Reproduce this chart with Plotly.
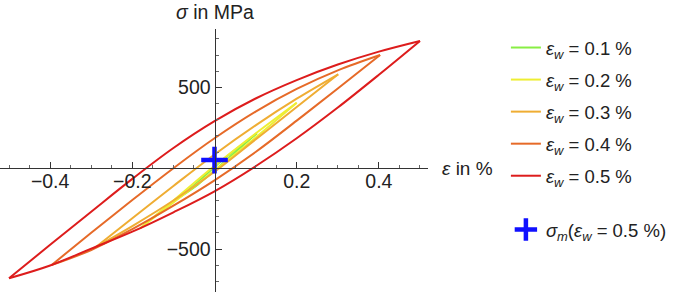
import plotly.graph_objects as go

# ---------------- data (strain in %, stress in MPa) ----------------
amplitudes = ["0.1", "0.2", "0.3", "0.4", "0.5"]
colors = ["#88ee44", "#eeee33", "#efad33", "#e66a28", "#dd1c1c"]

# 0.1 % loop
eps_up_01 = [-0.085, -0.04, 0.0, 0.05, 0.103]
sig_up_01 = [-180, -84, 8, 112, 216]
eps_lo_01 = [0.103, 0.05, 0.0, -0.04, -0.085]
sig_lo_01 = [216, 98, -14, -100, -180]

# 0.2 % loop
eps_up_02 = [-0.18, -0.1, 0.0, 0.1, 0.2]
sig_up_02 = [-370, -200, 15, 215, 405]
eps_lo_02 = [0.2, 0.1, 0.0, -0.1, -0.18]
sig_lo_02 = [405, 190, -15, -212, -370]

# 0.3 % loop
eps_up_03 = [-0.287, -0.2, -0.1, 0.0, 0.1, 0.2, 0.301]
sig_up_03 = [-485, -310, -110, 85, 265, 430, 581]
eps_lo_03 = [0.301, 0.2, 0.1, 0.0, -0.1, -0.2, -0.287]
sig_lo_03 = [581, 378, 178, -22, -200, -358, -485]

# 0.4 % loop
eps_up_04 = [-0.397, -0.3, -0.2, -0.1, 0.0, 0.1, 0.2, 0.3, 0.403]
sig_up_04 = [-600, -400, -197, 0, 185, 350, 490, 605, 700]
eps_lo_04 = [0.403, 0.3, 0.2, 0.1, 0.0, -0.1, -0.2, -0.3, -0.397]
sig_lo_04 = [700, 493, 294, 100, -75, -232, -377, -506, -600]

# 0.5 % loop
eps_up_05 = [-0.5, -0.4, -0.3, -0.2, -0.1, 0.0, 0.1, 0.2, 0.3, 0.4, 0.5]
sig_up_05 = [-681, -474, -269, -66, 125, 291, 431, 545, 641, 721, 787]
eps_lo_05 = [0.5, 0.4, 0.3, 0.2, 0.1, 0.0, -0.1, -0.2, -0.3, -0.4, -0.5]
sig_lo_05 = [787, 578, 375, 185, 12, -143, -273, -393, -498, -602, -681]

# mean stress of the 0.5 % loop
mean_eps = [0.0]
mean_sig = [50]

# axis ticks
x_tickvals = [-0.4, -0.2, 0.2, 0.4]
x_ticktext = ["\u22120.4", "\u22120.2", "0.2", "0.4"]
x_minor = [-0.5, -0.45, -0.35, -0.3, -0.25, -0.15, -0.1, -0.05,
           0.05, 0.1, 0.15, 0.25, 0.3, 0.35, 0.45, 0.5]
y_tickvals = [-500, 500]
y_ticktext = ["\u2212500", "500"]
y_minor = [-700, -600, -400, -300, -200, -100, 100, 200, 300, 400, 600, 700, 800]

loops = [
    (eps_up_01, sig_up_01, eps_lo_01, sig_lo_01),
    (eps_up_02, sig_up_02, eps_lo_02, sig_lo_02),
    (eps_up_03, sig_up_03, eps_lo_03, sig_lo_03),
    (eps_up_04, sig_up_04, eps_lo_04, sig_lo_04),
    (eps_up_05, sig_up_05, eps_lo_05, sig_lo_05),
]

fig = go.Figure()
for i, (eu, su, el, sl) in enumerate(loops):
    name = f"<i>\u03b5</i><sub><i>w</i></sub> = {amplitudes[i]} %"
    grp = f"g{i}"
    fig.add_trace(go.Scatter(x=eu, y=su, mode="lines", name=name,
                             line=dict(color=colors[i], width=2, shape="spline"),
                             legendgroup=grp, showlegend=True))
    fig.add_trace(go.Scatter(x=el, y=sl, mode="lines", name=name,
                             line=dict(color=colors[i], width=2, shape="spline"),
                             legendgroup=grp, showlegend=False))

fig.add_trace(go.Scatter(x=mean_eps, y=mean_sig, mode="markers",
                         name="<i>\u03c3</i><sub><i>m</i></sub>(<i>\u03b5</i><sub><i>w</i></sub> = 0.5 %)",
                         marker=dict(symbol="cross-thin", size=19, color="#1010ff",
                                     line=dict(color="#1010ff", width=4.5)),
                         legend="legend2"))

axis_color = "#333333"
fig.update_layout(
    width=685, height=294,
    margin=dict(l=0, r=257, t=29, b=2, autoexpand=False),
    plot_bgcolor="white", paper_bgcolor="white",
    font=dict(family="Liberation Sans, Arial, sans-serif", size=19, color="#222222"),
    xaxis=dict(range=[-0.522, 0.5195], anchor="free", position=0.4708,
               showline=True, linecolor=axis_color, linewidth=1,
               showgrid=False, zeroline=False, automargin=False,
               tickmode="array", tickvals=x_tickvals, ticktext=x_ticktext,
               ticks="inside", ticklen=6, tickcolor=axis_color, tickwidth=1,
               tickfont=dict(size=19.5), ticklabelstandoff=-5,
               minor=dict(tickmode="array", tickvals=x_minor, ticks="inside",
                          ticklen=3, tickcolor="#666666", tickwidth=1, showgrid=False)),
    yaxis=dict(range=[-766, 861], anchor="free", position=0.5012,
               showline=True, linecolor=axis_color, linewidth=1,
               showgrid=False, zeroline=False, automargin=False,
               tickmode="array", tickvals=y_tickvals, ticktext=y_ticktext,
               ticks="inside", ticklen=6, tickcolor=axis_color, tickwidth=1,
               tickfont=dict(size=19.5),
               minor=dict(tickmode="array", tickvals=y_minor, ticks="inside",
                          ticklen=3, tickcolor="#666666", tickwidth=1, showgrid=False)),
    legend=dict(x=1.182, xanchor="left", y=1.0, yanchor="top",
                traceorder="grouped", tracegroupgap=5,
                font=dict(size=18.5), bgcolor="rgba(0,0,0,0)"),
    legend2=dict(x=1.182, xanchor="left", y=0.236, yanchor="middle",
                 font=dict(size=18.5), bgcolor="rgba(0,0,0,0)"),
    annotations=[
        dict(text="<i>\u03c3</i> in MPa", xref="x", x=0, yref="paper", y=1.063,
             xanchor="center", yanchor="middle", showarrow=False, font=dict(size=19.5)),
        dict(text="<i>\u03b5</i> in %", xref="paper", x=1.028, yref="y", y=0,
             xanchor="left", yanchor="middle", showarrow=False, font=dict(size=19)),
    ],
)

# remove the browser's default page margin so the 685x294 figure fills the window
fig.write_html("out.html", config={"displayModeBar": False},
               post_script="document.body.style.margin='0';")
